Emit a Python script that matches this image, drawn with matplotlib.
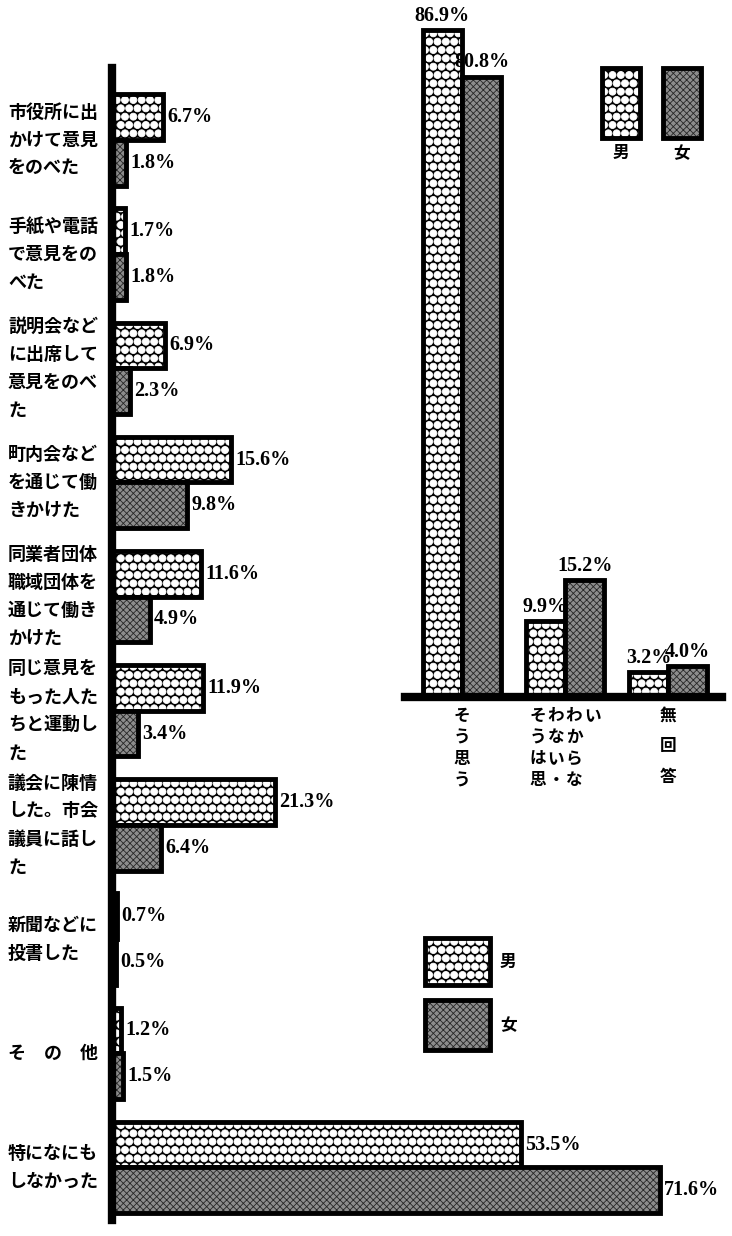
import matplotlib
matplotlib.use('Agg')
import matplotlib.pyplot as plt
import matplotlib.hatch as mhatch
import matplotlib.transforms as mtransforms
from matplotlib.patches import Rectangle
import numpy as np

# left chart: what people did (male / female, %)
actions = [
    '市役所に出\nかけて意見\nをのべた',
    '手紙や電話\nで意見をの\nべた',
    '説明会など\nに出席して\n意見をのべ\nた',
    '町内会など\nを通じて働\nきかけた',
    '同業者団体\n職域団体を\n通じて働き\nかけた',
    '同じ意見を\nもった人た\nちと運動し\nた',
    '議会に陳情\nした。市会\n議員に話し\nた',
    '新聞などに\n投書した',
    'そ　の　他',
    '特になにも\nしなかった',
]
male = [6.7, 1.7, 6.9, 15.6, 11.6, 11.9, 21.3, 0.7, 1.2, 53.5]
female = [1.8, 1.8, 2.3, 9.8, 4.9, 3.4, 6.4, 0.5, 1.5, 71.6]

# right chart: opinion (male / female, %)
opinions = ['そう思う', 'そうは思わない・わからない', '無回答']
male_op = [86.9, 9.9, 3.2]
female_op = [80.8, 15.2, 4.0]

legend_labels = ['男', '女']

JP = ['Noto Sans CJK JP', 'DejaVu Sans']
NUM = 'Liberation Serif'

# honeycomb look: white filled circles on black
mhatch.LargeCircles.filled = True
mhatch.LargeCircles.size = 0.42
plt.rcParams['hatch.linewidth'] = 0.6

MALE = dict(facecolor='black', edgecolor='white', hatch='OO')
FEMALE = dict(facecolor='#8c8c8c', edgecolor='#262626', hatch='xxxxx')
OUTLINE = dict(fill=False, edgecolor='black', lw=3.5)

W, H = 732, 1236
fig = plt.figure(figsize=(W / 100, H / 100), dpi=100)

# ---- left horizontal bars
ax = fig.add_axes([112 / W, 16 / H, 574 / W, 1152 / H])
ax.patch.set_alpha(0)
y = np.arange(len(actions))
bh = 0.4
for vals, style, off in [(male, MALE, -bh / 2), (female, FEMALE, bh / 2)]:
    ax.barh(y + off, vals, height=bh, lw=0, **style)
    ax.barh(y + off, vals, height=bh, **OUTLINE)
    for yi, v in zip(y, vals):
        ax.annotate(f'{v}%', (v, yi + off), xytext=(3, 0), textcoords='offset points',
                    ha='left', va='center', fontsize=14.5, family=NUM, weight='bold')
ax.set_xlim(0, 75)
ax.set_ylim(9.46, -0.63)
for s in ['top', 'right', 'bottom']:
    ax.spines[s].set_visible(False)
ax.spines['left'].set_linewidth(6)
ax.set_xticks([])
ax.set_yticks([])

lab_tr = mtransforms.blended_transform_factory(fig.transFigure, ax.transData)
for yi, lab in zip(y, actions):
    ax.text(8 / W, yi, lab, transform=lab_tr, ha='left', va='center',
            fontsize=13, family=JP, weight='bold', linespacing=1.6)

# ---- right vertical bars
ax2 = fig.add_axes([405 / W, (H - 697) / H, 317 / W, 691 / H])
ax2.patch.set_alpha(0)
x = np.arange(len(opinions))
bw = 0.38
for vals, style, off in [(male_op, MALE, -bw / 2), (female_op, FEMALE, bw / 2)]:
    ax2.bar(x + off, vals, width=bw, lw=0, **style)
    ax2.bar(x + off, vals, width=bw, **OUTLINE)
    for xi, v in zip(x, vals):
        ax2.annotate(f'{v}%', (xi + off, v), xytext=(0, 3), textcoords='offset points',
                     ha='center', va='bottom', fontsize=14.5, family=NUM, weight='bold')
ax2.set_xlim(-0.553, 2.524)
ax2.set_ylim(0, 90)
for s in ['top', 'right', 'left']:
    ax2.spines[s].set_visible(False)
ax2.spines['bottom'].set_linewidth(6)
ax2.set_xticks([])
ax2.set_yticks([])

# vertical category text, 4 characters per column
xl_tr = ax2.get_xaxis_transform()
for xi, lab in zip(x, opinions):
    cols = [lab[i:i + 4] for i in range(0, len(lab), 4)]
    n = len(cols)
    for j, col in enumerate(cols):
        gap = 1.9 if len(col) == 3 else 1.25
        ax2.text(xi + (j - (n - 1) / 2) * 0.177, -0.014, '\n'.join(col), transform=xl_tr,
                 ha='center', va='top', fontsize=12, family=JP, weight='bold',
                 linespacing=gap)


# ---- legends (drawn as boxes)
def box(x0, y0, w, h, style):
    fig.add_artist(Rectangle((x0, y0), w, h, transform=fig.transFigure, lw=0, **style))
    fig.add_artist(Rectangle((x0, y0), w, h, transform=fig.transFigure, **OUTLINE))


# top right: boxes with labels below
for bx, style, lab in zip([602, 663], [MALE, FEMALE], legend_labels):
    box(bx / W, (H - 138) / H, 38 / W, 70 / H, style)
    fig.text((bx + 19) / W, (H - 153) / H, lab, ha='center', va='center',
             fontsize=12, family=JP, weight='bold')

# lower middle: boxes with labels right
for by, style, lab in zip([985, 1050], [MALE, FEMALE], legend_labels):
    hgt = 47 if lab == '男' else 50
    box(425 / W, (H - by) / H, 65 / W, hgt / H, style)
    fig.text(500 / W, (H - by + hgt / 2) / H, lab, ha='left', va='center',
             fontsize=12, family=JP, weight='bold')

fig.savefig('out.png', dpi=100)
